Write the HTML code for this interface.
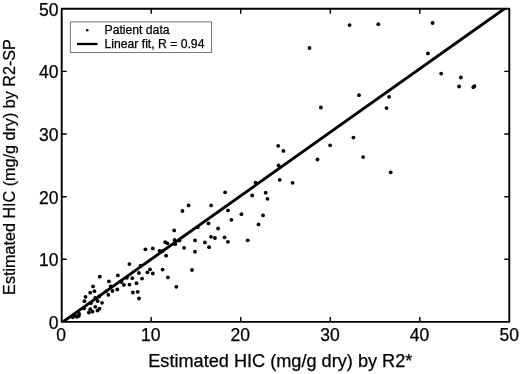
<!DOCTYPE html>
<html><head><meta charset="utf-8"><title>HIC scatter</title>
<style>
html,body{margin:0;padding:0;background:#fff;}
svg{display:block;}
text{font-family:"Liberation Sans",Arial,sans-serif;fill:#000;stroke:#000;stroke-width:0.25px;}
.tk{font-size:17.5px;}
.lg{font-size:12.2px;}
</style></head><body>
<svg width="520" height="374" viewBox="0 0 520 374">
<rect x="0" y="0" width="520" height="374" fill="#fff"/>
<rect x="61.7" y="8.8" width="447.6" height="313.09999999999997" fill="none" stroke="#000" stroke-width="1.9" stroke-linejoin="round"/>
<path d="M151.2 321.9V316.9M151.2 8.8V13.8M61.7 259.3H66.7M509.3 259.3H504.3" stroke="#000" stroke-width="1.4" fill="none"/>
<path d="M240.7 321.9V316.9M240.7 8.8V13.8M61.7 196.7H66.7M509.3 196.7H504.3" stroke="#000" stroke-width="1.4" fill="none"/>
<path d="M330.3 321.9V316.9M330.3 8.8V13.8M61.7 134.0H66.7M509.3 134.0H504.3" stroke="#000" stroke-width="1.4" fill="none"/>
<path d="M419.8 321.9V316.9M419.8 8.8V13.8M61.7 71.4H66.7M509.3 71.4H504.3" stroke="#000" stroke-width="1.4" fill="none"/>
<text class="tk" x="61.0" y="341.0" text-anchor="middle">0</text>
<text class="tk" x="58.4" y="328.7" text-anchor="end">0</text>
<text class="tk" x="150.7" y="341.0" text-anchor="middle">10</text>
<text class="tk" x="58.4" y="266.1" text-anchor="end">10</text>
<text class="tk" x="240.3" y="341.0" text-anchor="middle">20</text>
<text class="tk" x="58.4" y="203.5" text-anchor="end">20</text>
<text class="tk" x="330.0" y="341.0" text-anchor="middle">30</text>
<text class="tk" x="58.4" y="140.8" text-anchor="end">30</text>
<text class="tk" x="419.6" y="341.0" text-anchor="middle">40</text>
<text class="tk" x="58.4" y="78.2" text-anchor="end">40</text>
<text class="tk" x="509.3" y="341.0" text-anchor="middle">50</text>
<text class="tk" x="58.4" y="15.6" text-anchor="end">50</text>
<text x="280.3" y="367.2" font-size="18.15px" text-anchor="middle">Estimated HIC (mg/g dry) by R2*</text>
<text transform="translate(15.4 167) rotate(-90) scale(0.898 0.94)" font-size="18px" text-anchor="middle">Estimated HIC (mg/g dry) by R2-SP</text>
<clipPath id="cp"><rect x="61.7" y="8.8" width="447.6" height="313.09999999999997"/></clipPath>
<line x1="56.7" y1="326.26" x2="514.3" y2="1.73" stroke="#000" stroke-width="2.9" clip-path="url(#cp)"/>
<rect x="70.3" y="21.9" width="141.3" height="30.5" fill="#fff" stroke="#555" stroke-width="0.8"/>
<circle cx="87.2" cy="30.3" r="1.3" fill="#000"/>
<line x1="77" y1="44.0" x2="97.5" y2="44.0" stroke="#000" stroke-width="2.3"/>
<text class="lg" x="104.5" y="34.2">Patient data</text>
<text class="lg" x="104.5" y="47.6">Linear fit, R = 0.94</text>
<g fill="#000">
<circle cx="72.8" cy="317.3" r="1.9"/><circle cx="75.2" cy="315.7" r="1.9"/><circle cx="78.8" cy="316.0" r="1.9"/><circle cx="79.2" cy="314.0" r="1.9"/><circle cx="84.0" cy="308.4" r="1.9"/><circle cx="84.5" cy="301.2" r="1.9"/><circle cx="85.5" cy="296.8" r="1.9"/><circle cx="88.9" cy="312.5" r="1.9"/><circle cx="90.2" cy="292.7" r="1.9"/><circle cx="90.3" cy="309.2" r="1.9"/><circle cx="90.9" cy="303.2" r="1.9"/><circle cx="92.5" cy="311.7" r="1.9"/><circle cx="93.0" cy="286.4" r="1.9"/><circle cx="94.4" cy="291.2" r="1.9"/><circle cx="95.2" cy="297.9" r="1.9"/><circle cx="95.3" cy="306.8" r="1.9"/><circle cx="97.5" cy="310.6" r="1.9"/><circle cx="97.7" cy="301.0" r="1.9"/><circle cx="99.2" cy="296.5" r="1.9"/><circle cx="99.5" cy="308.7" r="1.9"/><circle cx="99.8" cy="276.7" r="1.9"/><circle cx="102.0" cy="302.8" r="1.9"/><circle cx="106.5" cy="291.1" r="1.9"/><circle cx="108.3" cy="294.8" r="1.9"/><circle cx="108.9" cy="281.3" r="1.9"/><circle cx="110.7" cy="286.5" r="1.9"/><circle cx="112.5" cy="291.0" r="1.9"/><circle cx="117.3" cy="289.5" r="1.9"/><circle cx="117.9" cy="275.4" r="1.9"/><circle cx="121.5" cy="282.1" r="1.9"/><circle cx="123.9" cy="284.9" r="1.9"/><circle cx="126.9" cy="277.8" r="1.9"/><circle cx="129.4" cy="264.1" r="1.9"/><circle cx="129.5" cy="284.6" r="1.9"/><circle cx="132.3" cy="278.2" r="1.9"/><circle cx="132.9" cy="292.5" r="1.9"/><circle cx="136.5" cy="283.2" r="1.9"/><circle cx="137.7" cy="291.8" r="1.9"/><circle cx="138.9" cy="273.0" r="1.9"/><circle cx="139.0" cy="298.5" r="1.9"/><circle cx="140.6" cy="265.6" r="1.9"/><circle cx="142.0" cy="278.6" r="1.9"/><circle cx="145.4" cy="249.3" r="1.9"/><circle cx="147.4" cy="272.3" r="1.9"/><circle cx="150.0" cy="269.4" r="1.9"/><circle cx="152.8" cy="248.4" r="1.9"/><circle cx="152.8" cy="273.5" r="1.9"/><circle cx="159.5" cy="250.9" r="1.9"/><circle cx="162.5" cy="250.9" r="1.9"/><circle cx="162.6" cy="269.6" r="1.9"/><circle cx="165.1" cy="242.1" r="1.9"/><circle cx="167.3" cy="243.3" r="1.9"/><circle cx="166.1" cy="255.7" r="1.9"/><circle cx="167.9" cy="277.4" r="1.9"/><circle cx="174.2" cy="230.4" r="1.9"/><circle cx="174.5" cy="240.0" r="1.9"/><circle cx="175.1" cy="244.2" r="1.9"/><circle cx="176.3" cy="286.8" r="1.9"/><circle cx="179.5" cy="240.6" r="1.9"/><circle cx="184.1" cy="247.8" r="1.9"/><circle cx="182.4" cy="211.0" r="1.9"/><circle cx="188.6" cy="205.4" r="1.9"/><circle cx="192.0" cy="270.0" r="1.9"/><circle cx="195.0" cy="240.4" r="1.9"/><circle cx="195.0" cy="251.7" r="1.9"/><circle cx="197.7" cy="227.3" r="1.9"/><circle cx="204.9" cy="242.4" r="1.9"/><circle cx="208.5" cy="223.4" r="1.9"/><circle cx="209.1" cy="247.2" r="1.9"/><circle cx="211.0" cy="236.8" r="1.9"/><circle cx="211.1" cy="205.4" r="1.9"/><circle cx="214.9" cy="238.0" r="1.9"/><circle cx="218.1" cy="228.5" r="1.9"/><circle cx="224.5" cy="237.3" r="1.9"/><circle cx="225.1" cy="192.3" r="1.9"/><circle cx="227.9" cy="241.8" r="1.9"/><circle cx="228.0" cy="210.4" r="1.9"/><circle cx="231.4" cy="219.8" r="1.9"/><circle cx="241.4" cy="214.2" r="1.9"/><circle cx="247.7" cy="240.3" r="1.9"/><circle cx="252.2" cy="195.5" r="1.9"/><circle cx="255.5" cy="182.6" r="1.9"/><circle cx="258.5" cy="224.4" r="1.9"/><circle cx="263.0" cy="215.4" r="1.9"/><circle cx="265.7" cy="192.7" r="1.9"/><circle cx="267.5" cy="198.8" r="1.9"/><circle cx="278.2" cy="145.8" r="1.9"/><circle cx="278.5" cy="165.4" r="1.9"/><circle cx="279.7" cy="179.8" r="1.9"/><circle cx="283.4" cy="150.9" r="1.9"/><circle cx="292.6" cy="182.8" r="1.9"/><circle cx="309.5" cy="48.0" r="1.9"/><circle cx="317.5" cy="159.5" r="1.9"/><circle cx="320.9" cy="107.5" r="1.9"/><circle cx="330.1" cy="145.3" r="1.9"/><circle cx="349.6" cy="25.1" r="1.9"/><circle cx="353.4" cy="137.6" r="1.9"/><circle cx="359.0" cy="95.2" r="1.9"/><circle cx="363.1" cy="157.1" r="1.9"/><circle cx="378.3" cy="24.2" r="1.9"/><circle cx="386.5" cy="108.1" r="1.9"/><circle cx="389.1" cy="96.8" r="1.9"/><circle cx="390.7" cy="172.3" r="1.9"/><circle cx="427.9" cy="53.4" r="1.9"/><circle cx="432.6" cy="23.0" r="1.9"/><circle cx="441.2" cy="73.6" r="1.9"/><circle cx="459.1" cy="86.5" r="1.9"/><circle cx="460.9" cy="77.5" r="1.9"/><circle cx="473.3" cy="87.2" r="1.9"/><circle cx="474.5" cy="86.1" r="1.9"/><circle cx="76.8" cy="316.8" r="1.9"/>
</g>
</svg>
</body></html>
